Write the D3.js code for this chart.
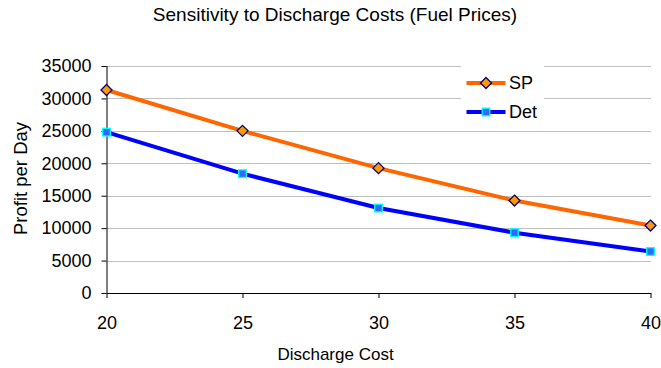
<!DOCTYPE html>
<html>
<head>
<meta charset="utf-8">
<script src="https://cdn.jsdelivr.net/npm/d3@7"></script>
<style>
    body { margin: 0; background: #fff; }
    text { font-family: "Liberation Sans", Arial, sans-serif; fill: #000; }
</style>
</head>
<body>
<div id="chart"></div>
<script>
const costs = [20, 25, 30, 35, 40];
const spValues = [31300, 25000, 19250, 14250, 10400];
const detValues = [24800, 18400, 13100, 9300, 6400];
const yTicks = [0, 5000, 10000, 15000, 20000, 25000, 30000, 35000];
const seriesNames = ['SP', 'Det'];

const width = 661, height = 368;
const margin = { top: 66, right: 10, bottom: 75, left: 106.5 };
const w = width - margin.left - margin.right;
const h = height - margin.top - margin.bottom;

const svg = d3.select('#chart')
    .append('svg')
    .attr('width', width)
    .attr('height', height);

const g = svg.append('g')
    .attr('transform', `translate(${margin.left}, ${margin.top})`);

const xScale = d3.scaleLinear().domain([20, 40]).range([0, w - 0.5]);
const yScale = d3.scaleLinear().domain([0, 35000]).range([h, 0]);

// gridlines
g.append('g')
    .selectAll('line')
    .data(yTicks.slice(1))
    .enter()
    .append('line')
    .attr('x1', 0)
    .attr('x2', w)
    .attr('y1', d => Math.round(yScale(d)) + 0.5)
    .attr('y2', d => Math.round(yScale(d)) + 0.5)
    .attr('stroke', '#c0c0c0')
    .attr('stroke-width', 1);

// axes
const yAxis = d3.axisLeft(yScale).tickValues(yTicks).tickSize(5).tickPadding(10).tickFormat(d3.format('d'));
g.append('g')
    .call(yAxis)
    .call(a => a.select('.domain').attr('d', `M0.5,0V${h}`))
    .call(a => a.selectAll('text').attr('font-size', 18).attr('font-family', '"Liberation Sans", Arial, sans-serif'));

const xAxis = d3.axisBottom(xScale).tickValues(costs).tickSize(5).tickPadding(18);
g.append('g')
    .attr('transform', `translate(0, ${h})`)
    .call(xAxis)
    .call(a => a.select('.domain').attr('d', `M0,0.5H${w}`))
    .call(a => a.selectAll('text').attr('font-size', 18).attr('font-family', '"Liberation Sans", Arial, sans-serif'));

// legend box (covers gridlines)
const legend = g.append('g').attr('transform', `translate(${461 - margin.left}, ${63 - margin.top})`);
legend.append('rect')
    .attr('width', 83)
    .attr('height', 64)
    .attr('fill', '#fff');

const series = [
    { name: seriesNames[0], values: spValues, color: '#ff6600', marker: 'diamond', fill: '#ff9900', stroke: '#000080' },
    { name: seriesNames[1], values: detValues, color: '#0000ff', marker: 'square', fill: '#3366ff', stroke: '#00ffff' }
];

const line = d3.line()
    .x((d, i) => xScale(costs[i]))
    .y(d => yScale(d));

function drawMarker (sel, s) {
    if (s.marker === 'diamond') {
        sel.append('path')
            .attr('d', 'M0,-5.5L5.5,0L0,5.5L-5.5,0Z')
            .attr('fill', s.fill)
            .attr('stroke', s.stroke)
            .attr('stroke-width', 1.3);
    } else {
        sel.append('rect')
            .attr('x', -3.8)
            .attr('y', -3.8)
            .attr('width', 7.6)
            .attr('height', 7.6)
            .attr('fill', s.fill)
            .attr('stroke', s.stroke)
            .attr('stroke-width', 1.3);
    }
}

series.forEach((s) => {
    g.append('path')
        .datum(s.values)
        .attr('d', line)
        .attr('fill', 'none')
        .attr('stroke', s.color)
        .attr('stroke-width', 4);

    g.selectAll('.m-' + s.name)
        .data(s.values)
        .enter()
        .append('g')
        .attr('class', 'm-' + s.name)
        .attr('transform', (d, i) => `translate(${xScale(costs[i])}, ${yScale(d)})`)
        .each(function () { drawMarker(d3.select(this), s); });
});

series.forEach((s, i) => {
    const row = legend.append('g').attr('transform', `translate(0, ${20 + i * 29})`);
    row.append('line')
        .attr('x1', 5.5)
        .attr('x2', 44.5)
        .attr('stroke', s.color)
        .attr('stroke-width', 4);
    const m = row.append('g').attr('transform', 'translate(25, 0)');
    drawMarker(m, s);
    row.append('text')
        .attr('x', 48)
        .attr('dy', '0.35em')
        .attr('font-size', 18)
        .text(s.name);
});

// titles
svg.append('text')
    .attr('x', 335)
    .attr('y', 21)
    .attr('text-anchor', 'middle')
    .attr('font-size', 19)
    .text('Sensitivity to Discharge Costs (Fuel Prices)');

svg.append('text')
    .attr('x', 335.5)
    .attr('y', 360)
    .attr('text-anchor', 'middle')
    .attr('font-size', 17)
    .text('Discharge Cost');

svg.append('text')
    .attr('transform', 'translate(27, 178.5) rotate(-90)')
    .attr('text-anchor', 'middle')
    .attr('font-size', 18.5)
    .text('Profit per Day');
</script>
</body>
</html>
